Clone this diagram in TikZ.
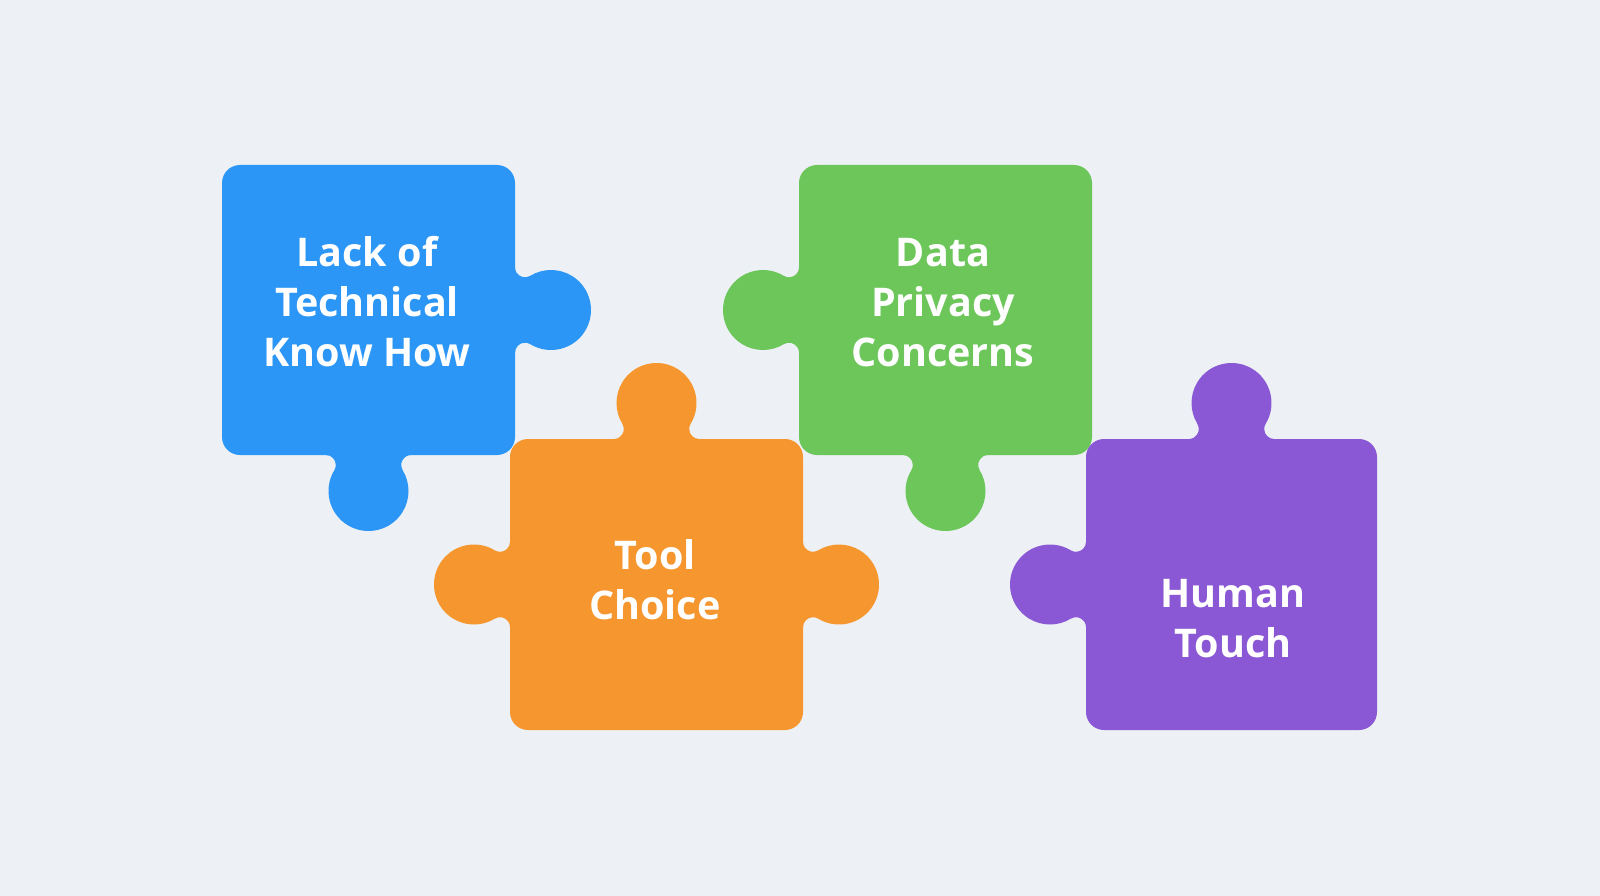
\documentclass[tikz,border=0pt]{standalone}
\usepackage{fontspec}
\setmainfont{Open Sans}
\usepackage{tikz}
\usetikzlibrary{positioning}

\definecolor{bgGrey}{RGB}{237,241,245}
\definecolor{pBlue}{RGB}{43,150,245}
\definecolor{pOrange}{RGB}{246,150,46}
\definecolor{pGreen}{RGB}{108,198,90}
\definecolor{pPurple}{RGB}{138,88,212}

\tikzset{
    piece/.style={rectangle, rounded corners=18, outer sep=0pt, inner sep=0pt},
    tab/.pic={
        \fill[#1] (-4,42.7) -- (0,42.7) arc[start angle=180, end angle=301.5, radius=10]
            arc[start angle=121.3, end angle=-121.3, radius=40]
            arc[start angle=58.5, end angle=180, radius=10] -- (-4,-42.7) -- cycle;
    },
    words/.style={text=white, align=center, font=\bfseries\fontsize{39.5}{50}\selectfont},
}

\begin{document}
\begin{tikzpicture}[x=1pt, y=-1pt]
        \fill[bgGrey] (0,0) rectangle (1600,896);
        \useasboundingbox (0,0) rectangle (1600,896);

        % pieces
        \node[piece, fill=pBlue, minimum width=293, minimum height=290] (lack) at (368.5,310) {};
        \node[piece, fill=pOrange, minimum width=293, minimum height=291] (tool) at (656.5,584.5) {};
        \node[piece, fill=pGreen, minimum width=293, minimum height=290] (data) at (945.5,310) {};
        \node[piece, fill=pPurple, minimum width=291, minimum height=291] (human) at (1231.5,584.5) {};

        % tabs
        \pic[rotate=0] at (lack.east) {tab=pBlue};
        \pic[rotate=-90] at (lack.south) {tab=pBlue};
        \pic[rotate=90] at (tool.north) {tab=pOrange};
        \pic[rotate=180] at (tool.west) {tab=pOrange};
        \pic[rotate=0] at (tool.east) {tab=pOrange};
        \pic[rotate=180] at (data.west) {tab=pGreen};
        \pic[rotate=-90] at (data.south) {tab=pGreen};
        \pic[rotate=90] at (human.north) {tab=pPurple};
        \pic[rotate=180] at (human.west) {tab=pPurple};

        % labels
        \node[words] (lackText) at (367,302) {Lack of\\Technical\\Know How};
        \node[words] (toolText) at (655,580) {Tool\\Choice};
        \node[words] (dataText) at (943,303) {Data\\Privacy\\Concerns};
        \node[words] (humanText) at (1233,619) {Human\\Touch};
\end{tikzpicture}
\end{document}
